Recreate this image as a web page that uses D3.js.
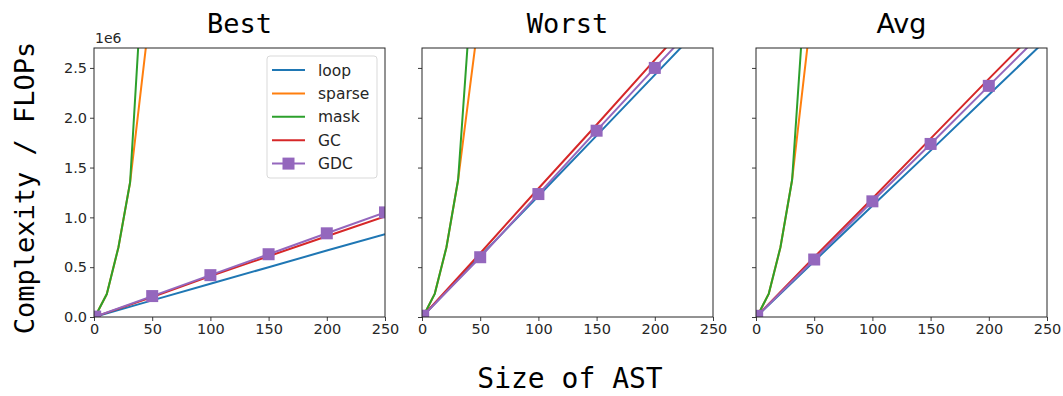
<!DOCTYPE html>
<html>
<head>
<meta charset="utf-8">
<script src="https://cdn.jsdelivr.net/npm/d3@7"></script>
<style>
  body { margin: 0; background: #fff; }
  svg text { fill: #262626; }
</style>
</head>
<body>
<svg id="chart"></svg>
<script>
const width = 1063, height = 396;

// x positions of samples
const xsLong = [1, 50, 100, 150, 200, 250];
const xsShort = [1, 11, 21, 31, 41, 51];

const panels = ['Best', 'Worst', 'Avg'];
const seriesNames = ['loop', 'sparse', 'mask', 'GC', 'GDC'];
const colors = {loop:'#1f77b4', sparse:'#ff7f0e', mask:'#2ca02c', GC:'#d62728', GDC:'#9467bd'};

// values in units of 1e6
const loopVals = {
  Best:  [0.003, 0.167, 0.333, 0.50, 0.667, 0.83],
  Worst: [0.012, 0.61, 1.215, 1.82, 2.43, 3.04],
  Avg:   [0.011, 0.56, 1.116, 1.67, 2.23, 2.79]
};
const gcVals = {
  Best:  [0.004, 0.20, 0.41, 0.61, 0.81, 1.01],
  Worst: [0.013, 0.64, 1.29, 1.93, 2.58, 3.22],
  Avg:   [0.012, 0.60, 1.19, 1.79, 2.39, 2.98]
};
const gdcVals = {
  Best:  [0.004, 0.21, 0.42, 0.63, 0.84, 1.05],
  Worst: [0.013, 0.60, 1.234, 1.87, 2.50, 3.12],
  Avg:   [0.012, 0.577, 1.161, 1.737, 2.32, 2.90]
};
const maskVals = {
  Best:  [0.005, 0.23, 0.70, 1.35, 3.30, 5.0],
  Worst: [0.005, 0.235, 0.70, 1.375, 3.03, 5.0],
  Avg:   [0.005, 0.235, 0.70, 1.375, 3.10, 5.0]
};
const sparseVals = {
  Best:  [0.005, 0.23, 0.70, 1.35, 2.35, 3.35],
  Worst: [0.005, 0.235, 0.70, 1.375, 2.29, 3.20],
  Avg:   [0.005, 0.235, 0.70, 1.375, 2.39, 3.40]
};

const xTicks = [0, 50, 100, 150, 200, 250];
const yTicks = [0, 0.5, 1.0, 1.5, 2.0, 2.5];

const svg = d3.select('#chart')
  .attr('width', width)
  .attr('height', height)
  .attr('viewBox', [0, 0, width, height]);

const lefts = [94, 422, 756];
const plotW = 291, plotTop = 48, plotBottom = 317;

const y = d3.scaleLinear().domain([0, 2.7]).range([plotBottom, plotTop]);

panels.forEach((p, i) => {
  const x = d3.scaleLinear().domain([0, 250]).range([lefts[i], lefts[i] + plotW]);
  const g = svg.append('g');

  g.append('clipPath').attr('id', 'clip' + i)
    .append('rect')
    .attr('x', lefts[i]).attr('y', plotTop)
    .attr('width', plotW).attr('height', plotBottom - plotTop);

  const plot = g.append('g').attr('clip-path', `url(#clip${i})`);
  const line = d3.line().x(d => x(d[0])).y(d => y(d[1]));

  const series = [
    ['loop', xsLong, loopVals[p]],
    ['sparse', xsShort, sparseVals[p]],
    ['mask', xsShort, maskVals[p]],
    ['GC', xsLong, gcVals[p]],
    ['GDC', xsLong, gdcVals[p]]
  ];
  series.forEach(([name, xs, vals]) => {
    const pts = xs.map((xv, k) => [xv, vals[k]]);
    plot.append('path')
      .datum(pts)
      .attr('d', line)
      .attr('fill', 'none')
      .attr('stroke', colors[name])
      .attr('stroke-width', 2);
    if (name === 'GDC') {
      plot.selectAll('.mk')
        .data(pts)
        .enter().append('rect')
        .attr('x', d => x(d[0]) - 6)
        .attr('y', d => y(d[1]) - 6)
        .attr('width', 12).attr('height', 12)
        .attr('fill', colors.GDC);
    }
  });

  const xAxis = g.append('g')
    .attr('transform', `translate(0,${plotBottom})`)
    .call(d3.axisBottom(x).tickValues(xTicks).tickSize(4).tickPadding(3).tickFormat(d3.format('d')));
  const yAxis = g.append('g')
    .attr('transform', `translate(${lefts[i]},0)`)
    .call(d3.axisLeft(y).tickValues(yTicks).tickSize(4).tickPadding(3)
      .tickFormat(i === 0 ? d3.format('.1f') : ''));
  [xAxis, yAxis].forEach(a => {
    a.select('.domain').remove();
    a.selectAll('line').attr('stroke', '#262626').attr('stroke-width', 0.9);
    a.selectAll('text').style('font-family', 'DejaVu Sans').style('font-size', '14.5px').attr('fill', '#262626');
  });

  g.append('rect')
    .attr('x', lefts[i]).attr('y', plotTop)
    .attr('width', plotW).attr('height', plotBottom - plotTop)
    .attr('fill', 'none').attr('stroke', '#262626').attr('stroke-width', 1);

  g.append('text')
    .attr('x', lefts[i] + plotW / 2)
    .attr('y', 33)
    .attr('text-anchor', 'middle')
    .style('font-family', p === 'Avg' ? 'DejaVu Sans' : 'DejaVu Sans Mono')
    .style('font-size', '27px')
    .style('fill', '#000')
    .text(p);
});

svg.append('text')
  .attr('x', lefts[0] + 1).attr('y', 43)
  .style('font-family', 'DejaVu Sans').style('font-size', '14px')
  .text('1e6');

// legend
const legend = svg.append('g').attr('transform', 'translate(267,56)');
legend.append('rect')
  .attr('width', 110).attr('height', 122).attr('rx', 3)
  .attr('fill', '#fff').attr('fill-opacity', 0.8)
  .attr('stroke', '#d9d9d9').attr('stroke-width', 1);
seriesNames.forEach((n, k) => {
  const ly = 14 + k * 23.4;
  legend.append('line')
    .attr('x1', 5).attr('x2', 38).attr('y1', ly).attr('y2', ly)
    .attr('stroke', colors[n]).attr('stroke-width', 2);
  if (n === 'GDC') {
    legend.append('rect')
      .attr('x', 21.5 - 6).attr('y', ly - 6).attr('width', 12).attr('height', 12)
      .attr('fill', colors.GDC);
  }
  legend.append('text')
    .attr('x', 51).attr('y', ly + 5.5)
    .style('font-family', 'DejaVu Sans').style('font-size', '15.5px')
    .text(n);
});

svg.append('text')
  .attr('transform', 'translate(34,188) rotate(-90)')
  .attr('text-anchor', 'middle')
  .style('font-family', 'DejaVu Sans Mono').style('font-size', '27px')
  .style('fill', '#000')
  .text('Complexity / FLOPs');

svg.append('text')
  .attr('x', 570).attr('y', 388)
  .attr('text-anchor', 'middle')
  .style('font-family', 'DejaVu Sans Mono').style('font-size', '28px')
  .style('fill', '#000')
  .text('Size of AST');
</script>
</body>
</html>
